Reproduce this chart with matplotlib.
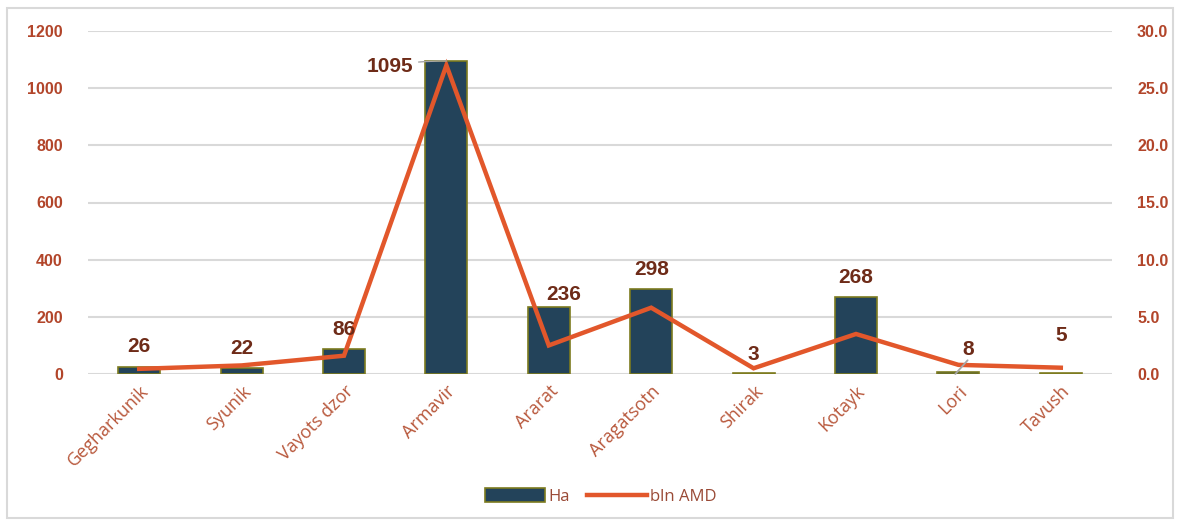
import matplotlib
matplotlib.use("Agg")
import matplotlib.pyplot as plt
from matplotlib.patches import Rectangle, Patch
from matplotlib.lines import Line2D
from matplotlib.ticker import FormatStrFormatter

regions = ["Gegharkunik", "Syunik", "Vayots dzor", "Armavir", "Ararat",
           "Aragatsotn", "Shirak", "Kotayk", "Lori", "Tavush"]
hectares = [26, 22, 86, 1095, 236, 298, 3, 268, 8, 5]
bln_amd = [0.45, 0.75, 1.6, 27.0, 2.5, 5.8, 0.5, 3.5, 0.8, 0.55]
left_ticks = [0, 200, 400, 600, 800, 1000, 1200]
right_ticks = [0, 5, 10, 15, 20, 25, 30]

BAR = "#23435a"
EDGE = "#7d7b1f"
LINE = "#e2572b"
TICK = "#b2452a"
CAT = "#b8583c"
LABEL = "#6e2b18"
GRID = "#d9d9d9"

plt.rcParams['font.family'] = ['Liberation Sans', 'DejaVu Sans']

fig = plt.figure(figsize=(11.78, 5.2), dpi=100)
fig.patches.append(Rectangle((0.006, 0.004), 0.99, 0.98, transform=fig.transFigure,
                             fill=False, edgecolor="#d9d9d9", linewidth=1.5))
ax = fig.add_axes([88/1178, 1-374/520, 1024/1178, 343/520])
ax2 = ax.twinx()

x = list(range(len(regions)))
ax.bar(x, hectares, width=0.41, color=BAR, edgecolor=EDGE, linewidth=1.2, zorder=3)
ax.set_ylim(0, 1200)
ax.set_xlim(-0.5, len(regions) - 0.5)
ax.set_yticks(left_ticks)
ax.yaxis.grid(True, color=GRID, linewidth=1.5, zorder=0)
ax.set_axisbelow(True)
for s in ax.spines.values():
    s.set_visible(False)
for s in ax2.spines.values():
    s.set_visible(False)
ax.tick_params(axis='y', length=0, pad=18, labelcolor=TICK, labelsize=11.5)
for t in ax.get_yticklabels():
    t.set_fontweight('bold')
ax.set_xticks(x)
ax.set_xticklabels(regions, rotation=45, ha='right', rotation_mode='anchor',
                   color=CAT, fontsize=13, family=['Open Sans', 'DejaVu Sans'])
ax.tick_params(axis='x', length=0, pad=6)

ax2.plot(x, bln_amd, color=LINE, linewidth=3.2, solid_joinstyle='miter', zorder=4)
ax2.set_ylim(0, 30)
ax2.set_yticks(right_ticks)
ax2.yaxis.set_major_formatter(FormatStrFormatter('%.1f'))
ax2.tick_params(axis='y', length=0, pad=18, labelcolor=TICK, labelsize=11.5)
for t in ax2.get_yticklabels():
    t.set_fontweight('bold')

# label centre offsets (points) from bar top
offsets = {0: (0, 14.5), 1: (0, 13.8), 2: (0, 14.2), 4: (11, 9), 5: (0, 14.2),
           6: (0, 13.5), 7: (0, 14), 9: (0, 27)}
LFS = 15
for i, v in enumerate(hectares):
    if i == 3:
        ax2.annotate(str(v), xy=(i, v), xycoords=ax.transData, xytext=(-24, -3.6),
                     textcoords='offset points', ha='right', va='center',
                     fontsize=LFS, fontweight='bold', color=LABEL, zorder=6,
                     arrowprops=dict(arrowstyle='-', color='#a6a6a6', lw=1,
                                     shrinkA=2, shrinkB=0,
                                     connectionstyle='arc3,rad=-0.05'))
    elif i == 8:
        ax2.annotate(str(v), xy=(i, v), xycoords=ax.transData, xytext=(7, 16),
                     textcoords='offset points', ha='center', va='center',
                     fontsize=LFS, fontweight='bold', color=LABEL, zorder=6)
        ax2.annotate("", xy=(i - 0.03, 0), xycoords=ax.transData,
                     xytext=(i + 0.09, v + 40), textcoords=ax.transData,
                     zorder=7,
                     arrowprops=dict(arrowstyle='-', color='#a6a6a6', lw=1.3,
                                     shrinkA=0, shrinkB=0))
    else:
        ax2.annotate(str(v), xy=(i, v), xycoords=ax.transData, xytext=offsets[i],
                     textcoords='offset points', ha='center', va='center',
                     fontsize=LFS, fontweight='bold', color=LABEL, zorder=6)

handles = [Patch(facecolor=BAR, edgecolor=EDGE, linewidth=1.2, label='Ha'),
           Line2D([0], [0], color=LINE, linewidth=3.2, label='bln AMD')]
leg = fig.legend(handles=handles, loc='center', bbox_to_anchor=(0.51, 0.045), ncol=2,
                 frameon=False, handlelength=3.6, handleheight=0.9,
                 columnspacing=1.0, handletextpad=0.2,
                 prop={'family': ['Open Sans', 'DejaVu Sans'], 'size': 12})
for t in leg.get_texts():
    t.set_color('#9a4a36')

fig.savefig("out.png", dpi=100)
